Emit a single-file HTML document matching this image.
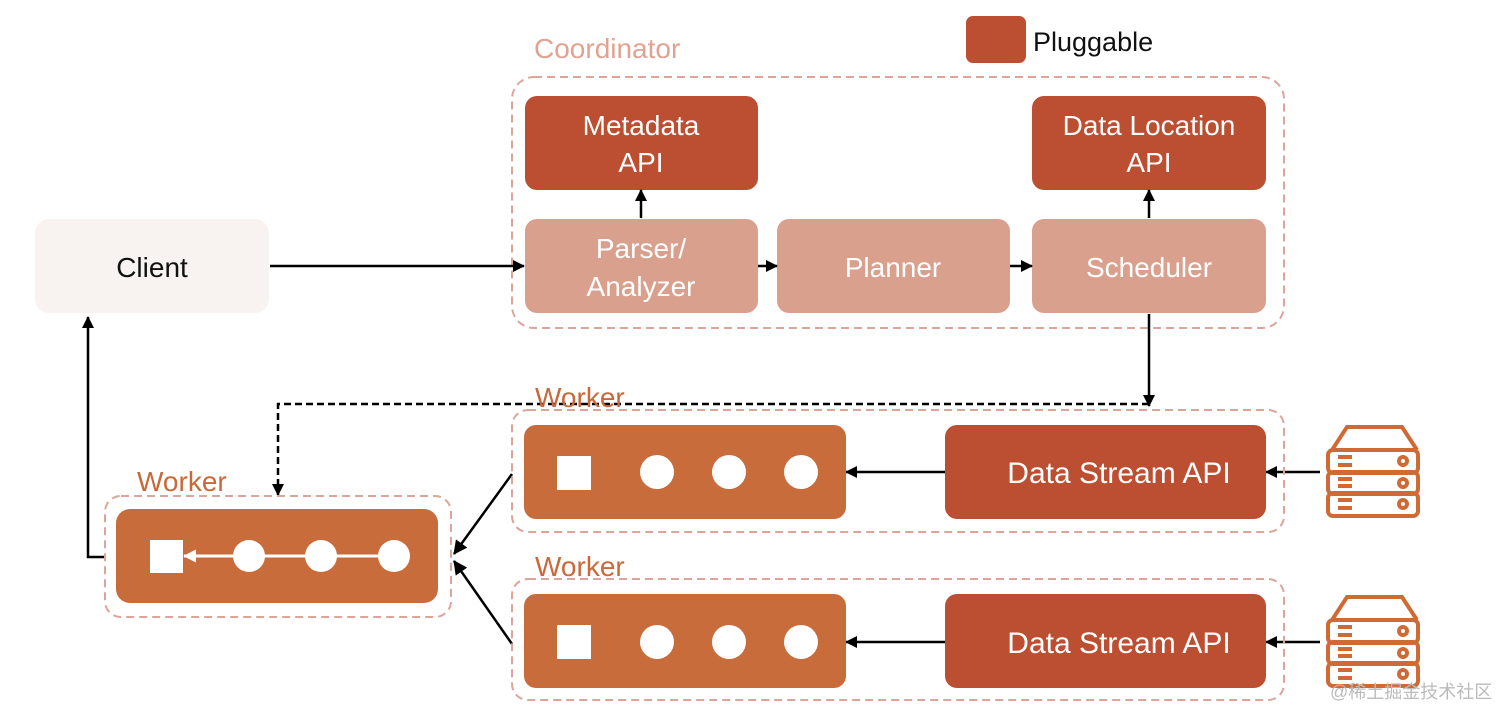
<!DOCTYPE html>
<html><head><style>
body{margin:0;background:#fff;}
svg{display:block;}
text{font-family:"Liberation Sans",sans-serif;}
</style></head><body>
<svg width="1512" height="722" viewBox="0 0 1512 722" xmlns="http://www.w3.org/2000/svg">
<defs>
<marker id="a" markerWidth="12" markerHeight="12" refX="11" refY="6" orient="auto" markerUnits="userSpaceOnUse" viewBox="0 0 12 12"><path d="M0,0 L12,6 L0,12 z" fill="#000"/></marker>
<marker id="aw" markerWidth="13" markerHeight="13" refX="12" refY="6.5" orient="auto" markerUnits="userSpaceOnUse" viewBox="0 0 13 13"><path d="M0,0 L13,6.5 L0,13 z" fill="#fff"/></marker>
<marker id="ab" markerWidth="14" markerHeight="14" refX="13" refY="7" orient="auto" markerUnits="userSpaceOnUse" viewBox="0 0 14 14"><path d="M0,0 L14,7 L0,14 z" fill="#000"/></marker>
<g id="srv" fill="none" stroke="#D06A35" stroke-width="4">
<path d="M10,25 L25,2 L80,2 L95,25"/>
<rect x="6" y="25" width="90" height="23" rx="5"/>
<rect x="6" y="47" width="90" height="22" rx="5"/>
<rect x="6" y="68" width="90" height="23" rx="5"/>
<path d="M16,32h14M16,40h14M16,54h14M16,61h14M16,75h14M16,83h14"/>
<circle cx="81" cy="36" r="4"/><circle cx="81" cy="58" r="4"/><circle cx="81" cy="79" r="4"/>
</g>
</defs>
<!-- legend -->
<rect x="966" y="16" width="60" height="47" rx="7" fill="#BC4E31"/>
<text x="1033" y="51" font-size="27" fill="#111">Pluggable</text>
<!-- coordinator -->
<text x="534" y="58" font-size="28" fill="#E0A393">Coordinator</text>
<rect x="512" y="77" width="772" height="251" rx="22" fill="none" stroke="#DDA49A" stroke-width="2" stroke-dasharray="8,5"/>
<g font-size="28" fill="#fff" text-anchor="middle">
<rect x="525" y="96" width="233" height="94" rx="12" fill="#BC4E31"/>
<text x="641" y="135">Metadata</text><text x="641" y="172">API</text>
<rect x="1032" y="96" width="234" height="94" rx="12" fill="#BC4E31"/>
<text x="1149" y="135">Data Location</text><text x="1149" y="172">API</text>
<rect x="525" y="219" width="233" height="94" rx="12" fill="#D9A08E"/>
<text x="641" y="258">Parser/</text><text x="641" y="296">Analyzer</text>
<rect x="777" y="219" width="233" height="94" rx="12" fill="#D9A08E"/>
<text x="893" y="277">Planner</text>
<rect x="1032" y="219" width="234" height="94" rx="12" fill="#D9A08E"/>
<text x="1149" y="277">Scheduler</text>
<rect x="35" y="219" width="234" height="94" rx="14" fill="#F8F3F0"/>
<text x="152" y="277" fill="#111">Client</text>
</g>
<!-- coordinator arrows -->
<g stroke="#000" stroke-width="2.5" fill="none" marker-end="url(#a)">
<line x1="270" y1="266" x2="524" y2="266"/>
<line x1="758" y1="266" x2="777" y2="266"/>
<line x1="1010" y1="266" x2="1032" y2="266"/>
<line x1="641" y1="218" x2="641" y2="190"/>
<line x1="1149" y1="218" x2="1149" y2="190"/>
<line x1="1149" y1="314" x2="1149" y2="406"/>
<polyline points="105,557 88,557 88,317"/>
<line x1="1320" y1="472" x2="1266" y2="472"/>
<line x1="1320" y1="642" x2="1266" y2="642"/>
<line x1="945" y1="472" x2="846" y2="472"/>
<line x1="945" y1="642" x2="846" y2="642"/>
</g>
<polyline points="1149,404 278,404 278,495" fill="none" stroke="#000" stroke-width="2.5" stroke-dasharray="7,4" marker-end="url(#a)"/>
<g stroke="#000" stroke-width="2.5" fill="none" marker-end="url(#ab)">
<line x1="512" y1="474" x2="454" y2="554"/>
<line x1="512" y1="644" x2="454" y2="561"/>
</g>
<!-- workers -->
<g font-size="28" fill="#C9693A">
<text x="535" y="407">Worker</text>
<text x="535" y="576">Worker</text>
<text x="137" y="491">Worker</text>
</g>
<g fill="none" stroke="#DDA49A" stroke-width="2" stroke-dasharray="8,5">
<rect x="512" y="410" width="772" height="122" rx="16"/>
<rect x="512" y="579" width="772" height="121" rx="16"/>
<rect x="105" y="496" width="346" height="121" rx="16"/>
</g>
<rect x="524" y="425" width="322" height="94" rx="12" fill="#C96C3C"/>
<rect x="524" y="594" width="322" height="94" rx="12" fill="#C96C3C"/>
<rect x="116" y="509" width="322" height="94" rx="14" fill="#C96C3C"/>
<rect x="945" y="425" width="321" height="94" rx="12" fill="#BC4E31"/>
<rect x="945" y="594" width="321" height="94" rx="12" fill="#BC4E31"/>
<g font-size="30" fill="#fff" text-anchor="middle">
<text x="1119" y="483">Data Stream API</text>
<text x="1119" y="653">Data Stream API</text>
</g>
<g fill="#fff">
<rect x="557" y="456" width="34" height="34"/><circle cx="657" cy="472" r="17"/><circle cx="729" cy="472" r="17"/><circle cx="801" cy="472" r="17"/>
<rect x="557" y="625" width="34" height="34"/><circle cx="657" cy="642" r="17"/><circle cx="729" cy="642" r="17"/><circle cx="801" cy="642" r="17"/>
<rect x="150" y="540" width="33" height="33"/><circle cx="249" cy="556" r="16"/><circle cx="321" cy="556" r="16"/><circle cx="394" cy="556" r="16"/>
</g>
<line x1="394" y1="556" x2="184" y2="556" stroke="#fff" stroke-width="3" marker-end="url(#aw)"/>
<use href="#srv" x="1322" y="425"/>
<use href="#srv" x="1322" y="595"/>
<text x="1330" y="698" font-size="18" fill="#bbb" style='font-family:"Liberation Sans","Noto Sans CJK SC",sans-serif'>@稀土掘金技术社区</text>
</svg>
</body></html>
